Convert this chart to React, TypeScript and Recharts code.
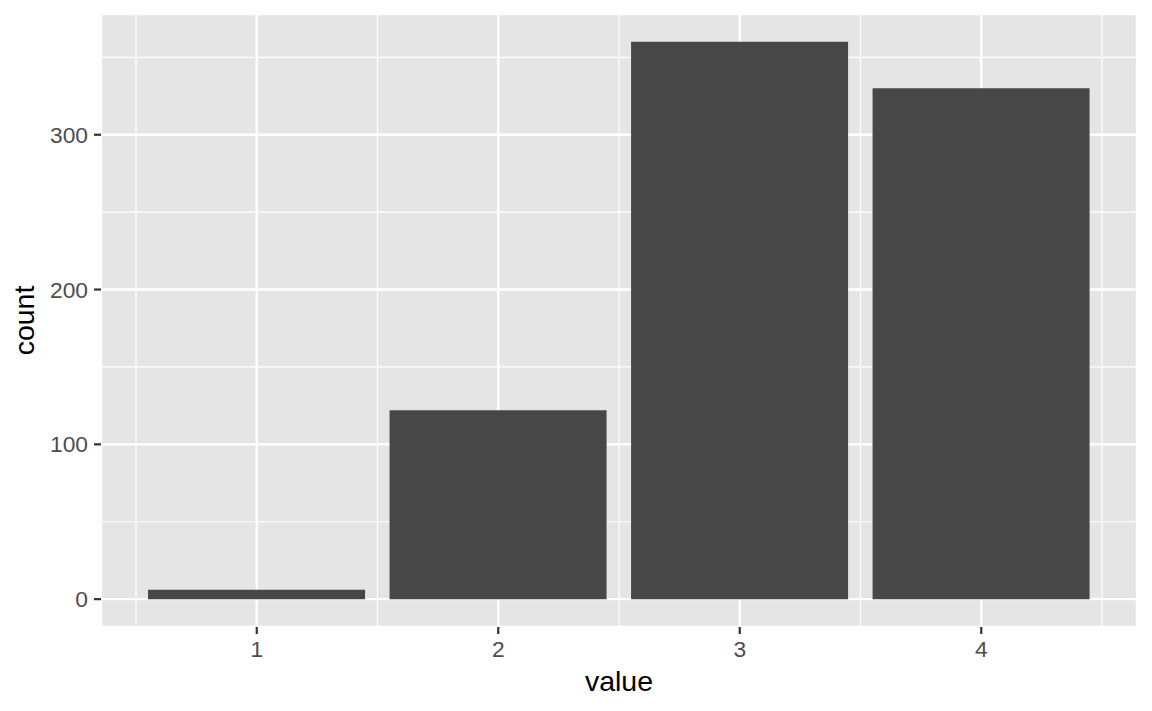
import { BarChart, Bar, XAxis, YAxis, CartesianGrid, Label } from "recharts";

const values = ["1", "2", "3", "4"];
const counts = [6, 122, 360, 330];
const countTicks = [0, 100, 200, 300];
const countMinorTicks = [50, 150, 250, 350];
const valueMinorTicks = [0.5, 1.5, 2.5, 3.5, 4.5];
const countDomain = [-18, 378];

const chartData = values.map((v, i) => ({ value: v, count: counts[i] }));

const font = "'Liberation Sans', Arial, Helvetica, sans-serif";
const tickStyle = { fontSize: 22.8, fill: "#4d4d4d", fontFamily: font };
const tickLineStyle = { stroke: "#333333", strokeWidth: 2.2 };

function CountLabel({ viewBox }: any) {
  const cx = viewBox.x + 34;
  const cy = viewBox.y + viewBox.height / 2;
  return (
    <text
      x={cx}
      y={cy}
      textAnchor="middle"
      transform={`rotate(-90, ${cx}, ${cy})`}
      fontSize={28.5}
      fontFamily={font}
      fill="#000000"
    >
      count
    </text>
  );
}

export default function App() {
  return (
    <div style={{ position: "fixed", left: 0, top: 0, background: "#ffffff" }}>
      <BarChart
        width={1152}
        height={711}
        data={chartData}
        margin={{ top: 14, right: 15, left: 0, bottom: 0 }}
        barCategoryGap="5%"
      >
        {/* minor grid first, major on top, like ggplot */}
        <CartesianGrid
          xAxisId="minor"
          yAxisId="minor"
          stroke="#ffffff"
          strokeWidth={1.2}
          fill="#e5e5e5"
          fillOpacity={1}
        />
        <CartesianGrid stroke="#ffffff" strokeWidth={2.4} />
        <XAxis
          xAxisId="minor"
          type="number"
          dataKey="value"
          domain={[0.5, 4.5]}
          ticks={valueMinorTicks}
          padding={{ left: 35, right: 35 }}
          allowDataOverflow
          hide
        />
        <YAxis
          yAxisId="minor"
          type="number"
          domain={countDomain}
          ticks={countMinorTicks}
          allowDataOverflow
          hide
        />
        <XAxis
          dataKey="value"
          padding={{ left: 35, right: 35 }}
          height={84}
          axisLine={false}
          tickLine={tickLineStyle}
          tickSize={7}
          tickMargin={7}
          tick={tickStyle}
        >
          <Label
            value="value"
            position="insideBottom"
            offset={20}
            style={{ fontSize: 28.5, fill: "#000000", fontFamily: font }}
          />
        </XAxis>
        <YAxis
          type="number"
          domain={countDomain}
          ticks={countTicks}
          allowDataOverflow
          width={101}
          axisLine={false}
          tickLine={tickLineStyle}
          tickSize={7}
          tickMargin={6}
          tick={tickStyle}
        >
          <Label content={CountLabel} />
        </YAxis>
        <Bar dataKey="count" fill="#474747" isAnimationActive={false} />
      </BarChart>
    </div>
  );
}
